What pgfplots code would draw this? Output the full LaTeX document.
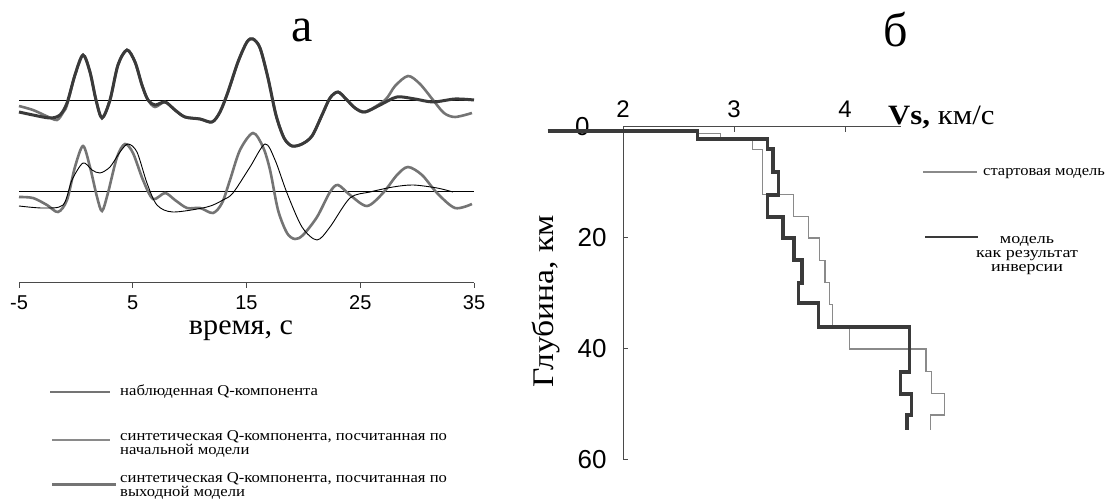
\documentclass[border=0pt]{standalone}
\usepackage{fontspec}
\setmainfont{Liberation Serif}
\newfontfamily\arial{Liberation Sans}
\usepackage{graphicx}
\usepackage{pgfplots}
\pgfplotsset{compat=1.18}
\definecolor{dk}{HTML}{3A3A3A}
\definecolor{gr}{HTML}{747474}
\definecolor{ax}{HTML}{4A4A4A}
\definecolor{thin}{HTML}{2E2E2E}
\definecolor{lg}{HTML}{8A8A8A}
\newcommand{\lgf}{\fontsize{15}{15}\selectfont}
\begin{document}
\begin{tikzpicture}
\useasboundingbox (0,0) rectangle (1113pt,500pt);
% ---------- left panel ----------
\begin{axis}[at={(19pt,217pt)},anchor=south west,scale only axis,width=455pt,height=263pt,
  xmin=-5,xmax=35,ymin=217,ymax=480,axis x line=bottom,axis y line=none,
  axis line style={-,ax,line width=1pt},
  xtick={-5,5,15,25,35},xticklabels={-5,5,15,25,35},
  tick align=outside,major tick length=5pt,tick style={ax,line width=1pt},
  xticklabel style={font=\arial\fontsize{20}{20}\selectfont,anchor=base,yshift=-22pt},clip=false]
% baselines
\addplot[thin,line width=1pt] coordinates {(-5,399) (35,399)};
\addplot[thin,line width=1pt] coordinates {(-5,308) (35,308)};
% upper observed (gray)
\addplot[gr,line width=2.6pt,smooth,tension=0.5] coordinates {
(-5,394) (-3.77,390) (-2.6,384) (-1.66,380) (-1.1,388) (-0.78,395) (-0.08,425) (0.63,445) (1.24,428) (1.77,400)
(2.30,382) (3.00,400) (3.70,435) (4.49,450) (5.20,438) (5.81,415) (6.34,400) (6.96,393) (7.84,398)
(8.71,390) (9.59,383) (10.91,381) (11.97,378) (12.67,388) (13.37,408) (14.25,438) (15.04,458)
(15.57,461) (16.19,452) (16.89,422) (17.59,385) (18.30,362) (19.00,354) (19.88,356) (20.76,364)
(21.64,385) (22.34,402) (23.04,408) (23.75,401) (24.54,392) (25.42,388) (27.18,400) (28.06,414)
(29.20,424) (30.25,416) (31.40,400) (32.36,387) (33.33,383) (34.82,387)};
% upper output synthetic (dark)
\addplot[dk,line width=3pt,smooth,tension=0.5] coordinates {
(-5,388) (-3.77,385) (-2.27,382) (-1.40,385) (-0.78,397) (-0.08,425) (0.63,445) (1.24,428) (1.77,400)
(2.30,382) (3.00,400) (3.70,435) (4.49,450) (5.20,438) (5.81,415) (6.34,400) (6.96,395) (7.84,398)
(8.71,390) (9.59,383) (10.91,381) (11.97,378) (12.67,388) (13.37,408) (14.25,438) (15.04,458)
(15.57,461) (16.19,452) (16.89,422) (17.59,385) (18.30,362) (19.00,354) (19.88,356) (20.76,364)
(21.64,385) (22.34,402) (23.04,408) (23.75,401) (24.54,392) (25.42,388) (26.74,395) (28.23,403)
(29.81,401) (31.40,398) (33.33,401) (35,400)};
% lower observed (gray)
\addplot[gr,line width=2.6pt,smooth,tension=0.5] coordinates {
(-5,303) (-3.77,302) (-2.54,295) (-1.57,288) (-0.78,300) (-0.08,333) (0.63,354) (1.24,333) (1.86,303)
(2.30,289) (2.82,307) (3.62,343) (4.32,356) (5.02,347) (5.90,320) (6.78,301) (7.84,307) (8.71,300)
(9.77,292) (10.91,292) (12.05,287) (12.85,297) (13.55,320) (14.43,350) (15.57,367) (16.45,353)
(17.07,330) (17.77,290) (18.56,267) (19.26,261) (19.97,265) (21.20,283) (22.34,308) (23.04,315)
(24.10,305) (25.59,294) (27.00,307) (28.23,325) (29.20,333) (30.43,325) (31.75,307) (33.33,292)
(34.82,296)};
% lower initial synthetic (thin)
\addplot[thin,line width=0.9pt,smooth,tension=0.5] coordinates {
(-5,294) (-2.89,292) (-1.13,295) (-0.34,320) (0.63,337) (1.42,330) (2.12,327) (3.00,333) (3.88,348)
(4.58,356) (5.37,348) (6.25,317) (7.13,295) (8.54,288) (11.53,293) (12.93,300) (13.81,307)
(15.31,333) (16.63,356) (17.51,340) (18.56,307) (19.88,273) (21.20,260) (22.34,273) (24.10,302)
(25.86,308) (27.88,313) (29.64,315) (31.75,312) (33.15,308)};
\end{axis}
% ---------- right panel ----------
\begin{axis}[at={(623pt,373pt)},anchor=north west,scale only axis,width=277.5pt,height=333pt,
  xmin=2,xmax=4.5,ymin=-60,ymax=0,axis x line=top,axis y line=left,
  axis line style={-,ax,line width=1pt},
  xtick={2,3,4},xticklabels={2,3,4},ytick={0,-20,-40,-60},
  yticklabels={0\rule{17pt}{0pt},20,40,60},
  tick align=inside,major tick length=5pt,tick style={ax,line width=1pt},
  xticklabel style={font=\arial\fontsize{24}{24}\selectfont,anchor=base,yshift=9pt},
  yticklabel style={font=\arial\fontsize{26}{26}\selectfont,xshift=-13pt},clip=false]
\addplot[lg,line width=1.1pt] coordinates {
(1.32,-0.7) (2.68,-0.7) (2.68,-1.1) (2.88,-1.1) (2.88,-2.2) (3.17,-2.2) (3.17,-4.1) (3.26,-4.1)
(3.26,-12.1) (3.54,-12.1) (3.54,-16.2) (3.67,-16.2) (3.67,-20) (3.77,-20) (3.77,-24) (3.82,-24)
(3.82,-28.1) (3.86,-28.1) (3.86,-32) (3.89,-32) (3.89,-36) (4.04,-36) (4.04,-40) (4.73,-40)
(4.73,-44.1) (4.78,-44.1) (4.78,-48.1) (4.90,-48.1) (4.90,-51.9) (4.77,-51.9) (4.77,-54.6)};
\addplot[dk,line width=3.6pt] coordinates {
(1.32,-0.7) (2.67,-0.7) (2.67,-2.2) (3.30,-2.2) (3.30,-4.0) (3.35,-4.0) (3.35,-8.1) (3.40,-8.1)
(3.40,-12.2) (3.30,-12.2) (3.30,-16.2) (3.44,-16.2) (3.44,-20) (3.54,-20) (3.54,-24) (3.61,-24)
(3.61,-28.1) (3.58,-28.1) (3.58,-31.7) (3.76,-31.7) (3.76,-36) (4.58,-36) (4.58,-44.1) (4.50,-44.1)
(4.50,-48.1) (4.60,-48.1) (4.60,-51.9) (4.56,-51.9) (4.56,-54.6)};
\end{axis}
% ---------- texts ----------
\node[anchor=base,inner sep=0pt] at (302pt,458pt) {\fontsize{48}{48}\selectfont а};
\node[anchor=base,inner sep=0pt] at (896pt,453pt) {\fontsize{48}{48}\selectfont б};
\node[anchor=base,inner sep=0pt] at (241pt,165pt) {\scalebox{1.04}[1]{\fontsize{29}{29}\selectfont время, с}};
\node[rotate=90,anchor=base,inner sep=0pt] at (553pt,199pt) {\scalebox{1.12}[1]{\fontsize{30}{30}\selectfont Глубина, км}};
\node[anchor=base west,inner sep=0pt] at (888pt,375pt) {\scalebox{1.1}[1]{\fontsize{28}{28}\selectfont\textbf{Vs,} км/с}};
% left legend
\draw[gr,line width=2pt] (50pt,108pt) -- (110pt,108pt);
\node[anchor=base west,inner sep=0pt] at (120pt,104pt) {\scalebox{1.11}[1]{\lgf наблюденная Q-компонента}};
\draw[lg,line width=1.2pt] (52pt,60pt) -- (110pt,60pt);
\node[anchor=base west,inner sep=0pt] at (120pt,59pt) {\scalebox{1.11}[1]{\lgf синтетическая Q-компонента, посчитанная по}};
\node[anchor=base west,inner sep=0pt] at (120pt,45pt) {\scalebox{1.11}[1]{\lgf начальной модели}};
\draw[gr,line width=3pt] (52pt,15pt) -- (116pt,15pt);
\node[anchor=base west,inner sep=0pt] at (120pt,17pt) {\scalebox{1.11}[1]{\lgf синтетическая Q-компонента, посчитанная по}};
\node[anchor=base west,inner sep=0pt] at (120pt,3pt) {\scalebox{1.11}[1]{\lgf выходной модели}};
% right legend
\draw[lg,line width=1.1pt] (923pt,328pt) -- (977pt,328pt);
\node[anchor=base west,inner sep=0pt] at (983pt,324pt) {\scalebox{1.1}[1]{\lgf стартовая модель}};
\draw[dk,line width=2.5pt] (925pt,263pt) -- (978pt,263pt);
\node[anchor=base,inner sep=0pt] at (1027pt,256pt) {\scalebox{1.2}[1]{\lgf модель}};
\node[anchor=base,inner sep=0pt] at (1027pt,242pt) {\scalebox{1.2}[1]{\lgf как результат}};
\node[anchor=base,inner sep=0pt] at (1027pt,228pt) {\scalebox{1.2}[1]{\lgf инверсии}};
\end{tikzpicture}
\end{document}
